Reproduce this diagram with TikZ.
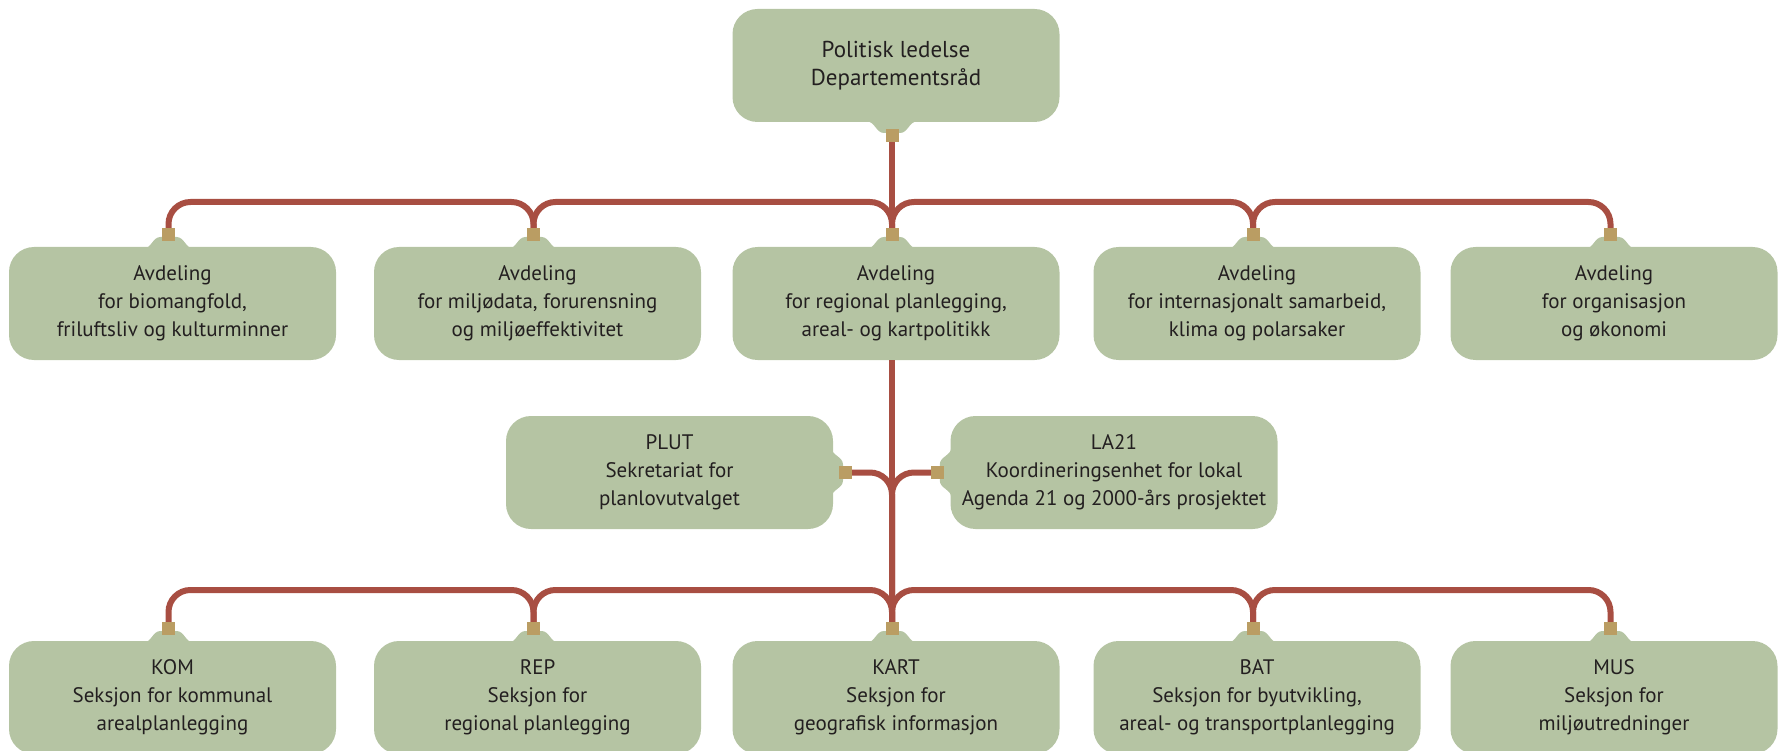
\documentclass[tikz,border=0pt]{standalone}
\usepackage{fontspec}
\setmainfont{PT Sans}
\definecolor{boxgreen}{HTML}{B5C4A3}
\definecolor{linered}{HTML}{A84E42}
\definecolor{sqtan}{HTML}{BA9D63}
\definecolor{textdark}{HTML}{231F20}
\tikzset{
  orgbox/.style={rectangle, rounded corners=25pt, fill=boxgreen, minimum width=327pt,
    minimum height=113pt, inner sep=0pt, align=center, text=textdark,
    font=\fontsize{21}{27.8}\selectfont},
  topbox/.style={orgbox, font=\fontsize{23}{28.5}\selectfont},
  sqnode/.style={rectangle, fill=sqtan, minimum size=13pt, inner sep=0pt},
  wire/.style={draw=linered, line width=6pt, rounded corners=22pt},
  bump/.pic={\fill[boxgreen] (-25,14) .. controls (-17,14) and (-16,2.5) .. (-8,2.5)
     -- (8,2.5) .. controls (16,2.5) and (17,14) .. (25,14) -- cycle;}
}
\begin{document}
\begin{tikzpicture}[x=1pt,y=-1pt]
\useasboundingbox (0,0) rectangle (1780,751);
% square positions
\coordinate (polc) at (892,135.5);
\coordinate (a1c) at (168.5,234.5);
\coordinate (a2c) at (533.5,234.5);
\coordinate (a3c) at (892,234.5);
\coordinate (a4c) at (1253,234.5);
\coordinate (a5c) at (1610.5,234.5);
\coordinate (plutc) at (845.5,472.5);
\coordinate (la21c) at (937.3,472.5);
\coordinate (s1c) at (168.5,628.5);
\coordinate (s2c) at (533.5,628.5);
\coordinate (s3c) at (892,628.5);
\coordinate (s4c) at (1253,628.5);
\coordinate (s5c) at (1610.5,628.5);
\coordinate (busA) at (892,202);
\coordinate (busB) at (892,590);
% boxes
\node[topbox] (pol) at (896,65.5) {Politisk ledelse\\Departementsråd};
\node[orgbox] (a1) at (172.5,303.5) {Avdeling\\for biomangfold,\\friluftsliv og kulturminner};
\node[orgbox] (a2) at (537.5,303.5) {Avdeling\\for miljødata, forurensning\\og miljøeffektivitet};
\node[orgbox] (a3) at (896,303.5) {Avdeling\\for regional planlegging,\\areal- og kartpolitikk};
\node[orgbox] (a4) at (1257,303.5) {Avdeling\\for internasjonalt samarbeid,\\klima og polarsaker};
\node[orgbox] (a5) at (1614,303.5) {Avdeling\\for organisasjon\\og økonomi};
\node[orgbox] (plut) at (669.5,472.5) {PLUT\\Sekretariat for\\planlovutvalget};
\node[orgbox] (la21) at (1114,472.5) {LA21\\Koordineringsenhet for lokal\\Agenda 21 og 2000-års prosjektet};
\node[orgbox] (s1) at (172.5,697.5) {KOM\\Seksjon for kommunal\\arealplanlegging};
\node[orgbox] (s2) at (537.5,697.5) {REP\\Seksjon for\\regional planlegging};
\node[orgbox] (s3) at (896,697.5) {KART\\Seksjon for\\geografisk informasjon};
\node[orgbox] (s4) at (1257,697.5) {BAT\\Seksjon for byutvikling,\\areal- og transportplanlegging};
\node[orgbox] (s5) at (1614,697.5) {MUS\\Seksjon for\\miljøutredninger};
% bumps
\pic[rotate=180] at (polc) {bump};
\foreach \c in {a1c,a2c,a3c,a4c,a5c,s1c,s2c,s3c,s4c,s5c} {\pic at (\c) {bump};}
\pic[rotate=-90] at (plutc) {bump};
\pic[rotate=90] at (la21c) {bump};
% wires
\draw[wire] (polc) -- (a3c);
\draw[wire] (a1c) -- (a1c |- busA) -- (a2c |- busA) -- (a2c);
\draw[wire] (a2c) -- (a2c |- busA) -- (a3c |- busA) -- (a3c);
\draw[wire] (a3c) -- (a3c |- busA) -- (a4c |- busA) -- (a4c);
\draw[wire] (a4c) -- (a4c |- busA) -- (a5c |- busA) -- (a5c);
\draw[wire] (a3c |- a3.south) -- (s3c);
\draw[wire] (plutc) -| (s3c);
\draw[wire] (la21c) -| (s3c);
\draw[wire] (s1c) -- (s1c |- busB) -- (s2c |- busB) -- (s2c);
\draw[wire] (s2c) -- (s2c |- busB) -- (s3c |- busB) -- (s3c);
\draw[wire] (s3c) -- (s3c |- busB) -- (s4c |- busB) -- (s4c);
\draw[wire] (s4c) -- (s4c |- busB) -- (s5c |- busB) -- (s5c);
% connector squares
\foreach \c in {polc,a1c,a2c,a3c,a4c,a5c,plutc,la21c,s1c,s2c,s3c,s4c,s5c}
  {\node[sqnode] (\c-sq) at (\c) {};}
\end{tikzpicture}
\end{document}
